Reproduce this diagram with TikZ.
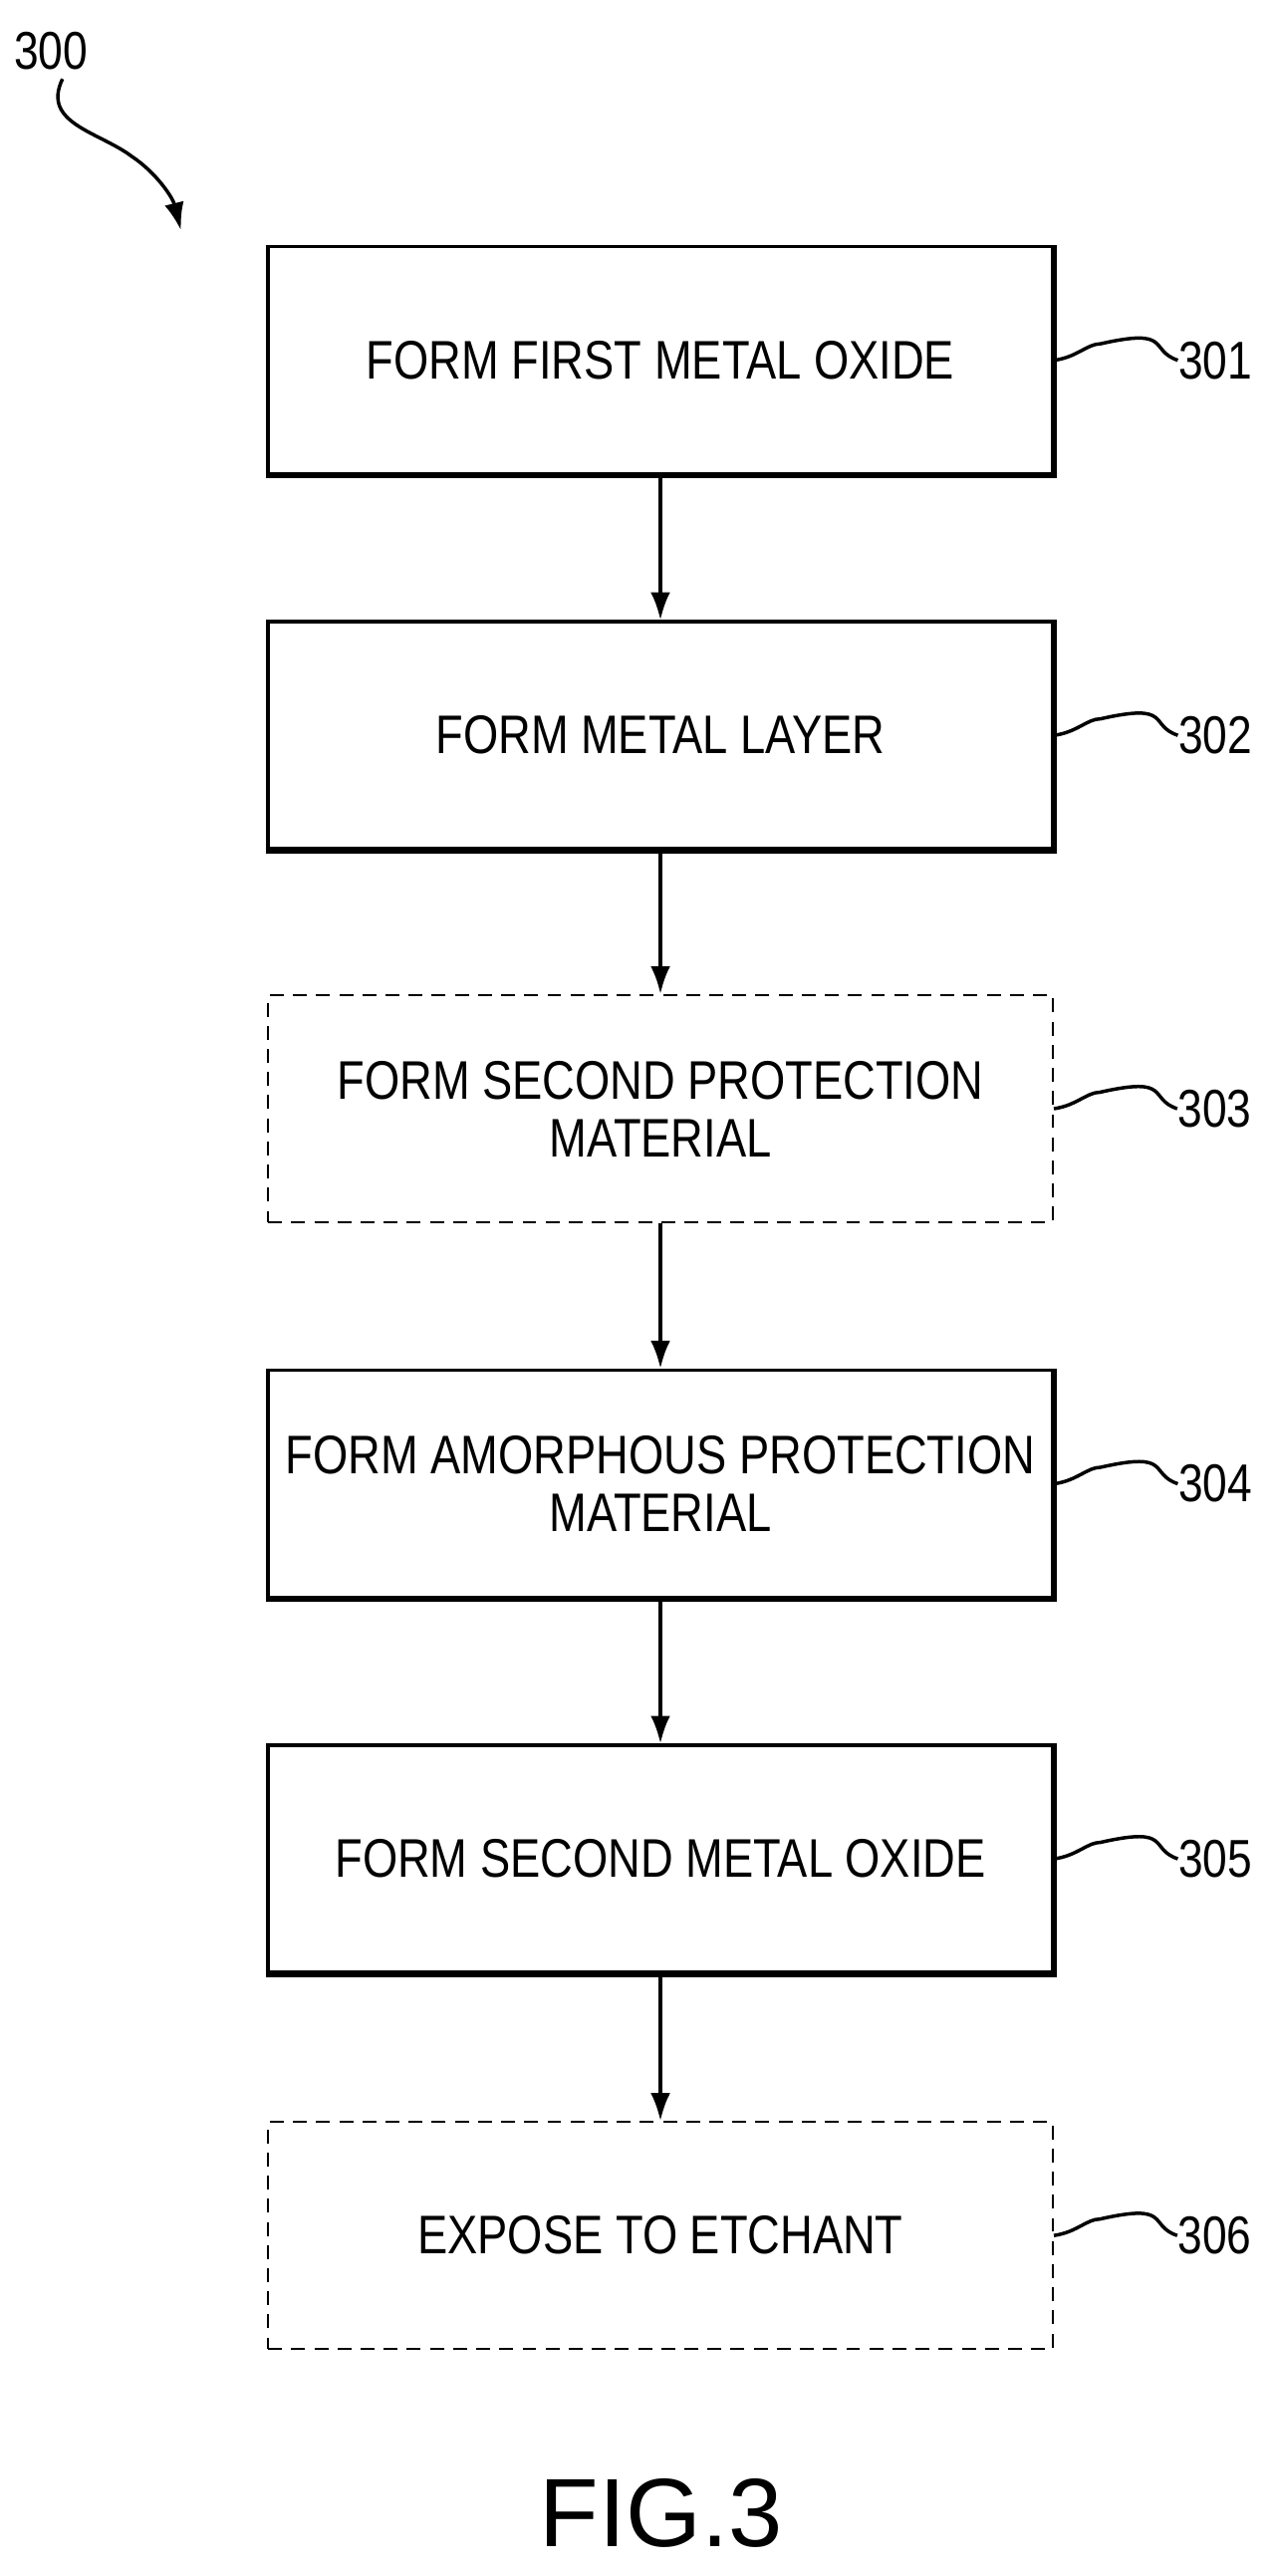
\documentclass[tikz,border=0pt]{standalone}
\usepackage{fontspec}
\setmainfont{Liberation Sans}
\usetikzlibrary{positioning,arrows.meta}
\newcommand{\nrw}[1]{\scalebox{0.83}[1]{#1}}
\tikzset{
  stepbox/.style={draw, line width=3pt, minimum width=23.85cm, minimum height=6.9cm,
    align=center, font=\fontsize{47}{50}\selectfont},
  optbox/.style={stepbox, dash pattern=on 12pt off 8pt, line width=2pt},
  flow/.style={line width=3pt, -{Latex[length=24pt,width=17pt]}},
  tag/.style={font=\fontsize{46}{50}\selectfont, anchor=west}
}
\begin{document}
\begin{tikzpicture}[x=0.05cm,y=-0.05cm]
  \useasboundingbox (0,0) rectangle (774,1566);
  % Steps.
  \node[stepbox] (s1) at (401.5,219) {\nrw{FORM FIRST METAL OXIDE}};
  \node[stepbox] (s2) at (401.5,447) {\nrw{FORM METAL LAYER}};
  \node[optbox]  (s3) at (401.5,674) {\nrw{FORM SECOND PROTECTION}\\\nrw{MATERIAL}};
  \node[stepbox] (s4) at (401.5,902) {\nrw{FORM AMORPHOUS PROTECTION}\\\nrw{MATERIAL}};
  \node[stepbox] (s5) at (401.5,1130) {\nrw{FORM SECOND METAL OXIDE}};
  \node[optbox]  (s6) at (401.5,1359) {\nrw{EXPOSE TO ETCHANT}};
  % Heavier right and bottom edges.
  \foreach \s in {s1,s2,s4,s5}
    \draw[line width=5pt] (\s.north east) -- (\s.south east) -- (\s.south west);
  % Arrows.
  \foreach \a/\b in {s1/s2,s2/s3,s3/s4,s4/s5,s5/s6}
    \draw[flow] (\a) -- (\b);
  % Reference numerals.
  \foreach \s/\n in {s1/301,s2/302,s3/303,s4/304,s5/305,s6/306} {
    \coordinate (c\n) at ([xshift=75*0.05cm]\s.east);
    \draw[line width=3pt] (\s.east) .. controls +(14,-2) and +(-8,0) .. +(28,-10)
      .. controls +(44,-10) and +(-18,-6) .. (c\n);
    \node[tag] (t\n) at ([xshift=-3pt]c\n) {\nrw{\n}};
  }
  % Figure number.
  \coordinate (a0) at (38,48);
  \coordinate (a1) at (110,140);
  \node[tag, anchor=south west] (t300) at (6,45) {\nrw{300}};
  \draw[flow] (a0) .. controls (25,75) and (60,80) .. (80,95)
    .. controls (95,105) and (105,120) .. (a1);
  \node[font=\fontsize{84}{90}\selectfont] (fig) at (402,1528) {FIG.3};
\end{tikzpicture}
\end{document}
